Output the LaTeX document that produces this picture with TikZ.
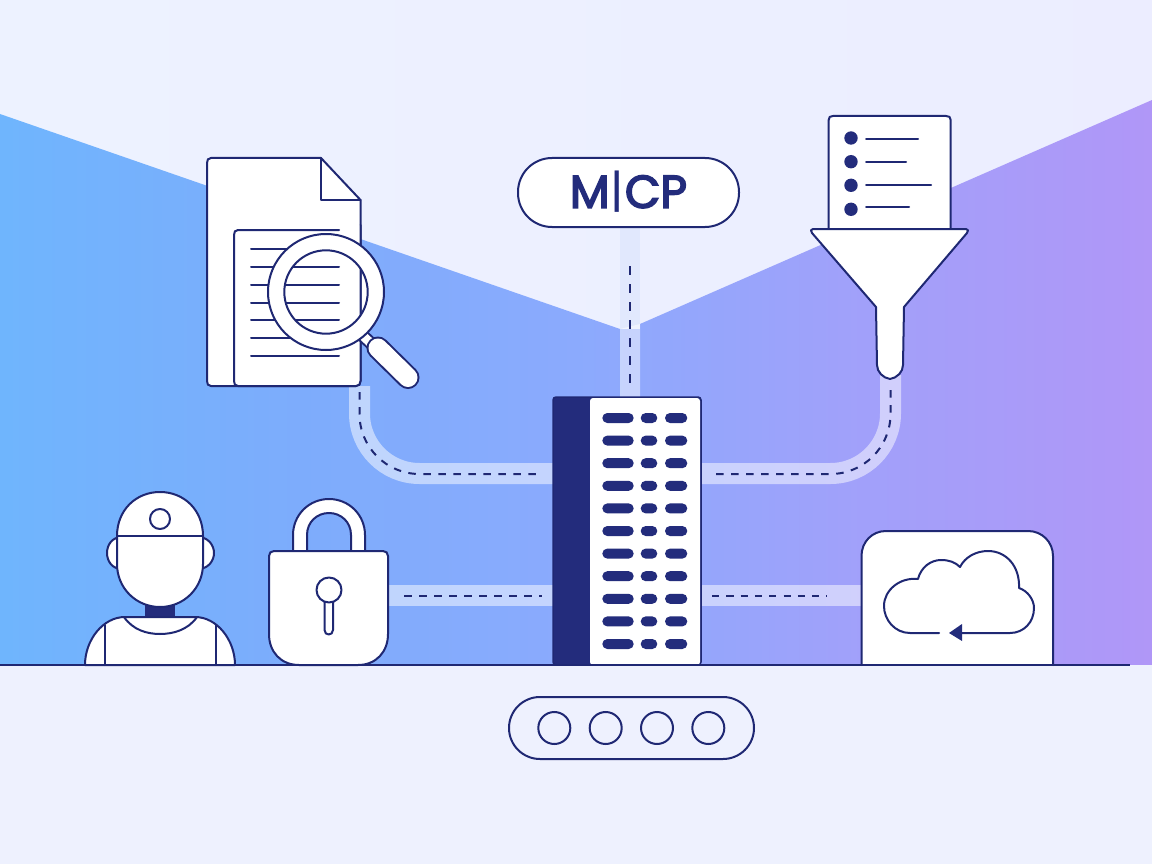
\documentclass[tikz,border=0pt]{standalone}
\usepackage{fontspec}
\newfontfamily\mcpfont[FakeBold=3.5]{Poppins}
\newfontfamily\mcpbar{Poppins}
\definecolor{navy}{HTML}{1F2873}
\definecolor{navyfill}{HTML}{232C7C}
\definecolor{floorc}{HTML}{EEF1FE}
\definecolor{bandup}{HTML}{E1E8FD}
\pgfdeclarehorizontalshading{wallshade}{100bp}{
  rgb(0bp)=(0.435,0.71,0.992);
  rgb(25bp)=(0.435,0.71,0.992);
  rgb(38bp)=(0.49,0.675,0.988);
  rgb(50bp)=(0.545,0.667,0.992);
  rgb(62bp)=(0.63,0.63,0.98);
  rgb(75bp)=(0.69,0.59,0.97);
  rgb(100bp)=(0.69,0.59,0.97)}
\pgfdeclarehorizontalshading{skyshade}{100bp}{
  rgb(0bp)=(0.93,0.95,1);
  rgb(25bp)=(0.93,0.95,1);
  rgb(75bp)=(0.925,0.93,1);
  rgb(100bp)=(0.925,0.93,1)}
\tikzset{
  ink/.style={draw=navy,line width=2pt,line join=round,line cap=round},
  paper/.style={ink,fill=white},
  band/.style={line width=21pt,white,opacity=.5,line cap=butt},
  dashline/.style={draw=navy,line width=2pt,dash pattern=on 7.5pt off 7.5pt},
  textline/.style={draw=navy,line width=2pt,line cap=round},
  srvpill/.style={fill=navyfill,rounded corners=5pt}
}
\begin{document}
\begin{tikzpicture}[x=1pt,y=-1pt]
\useasboundingbox (0,0) rectangle (1152,864);
% backgrounds
\shade[shading=skyshade] (0,0) rectangle (1152,665);
\shade[shading=wallshade] (0,114) -- (620,329) -- (640,324) -- (1152,100) -- (1152,665) -- (0,665) -- cycle;
\fill[floorc] (0,665) rectangle (1152,864);
% ports
\coordinate (docport) at (359.5,386);
\coordinate (srvl) at (553,473.5);
\coordinate (fnlport) at (890.5,375);
\coordinate (srvr) at (701,473.5);
\coordinate (lockport) at (388,595.5);
\coordinate (srvll) at (553,595.5);
\coordinate (cloudport) at (861,595.5);
\coordinate (srvlr) at (701,595.5);
% bands
\fill[bandup] (620,227) rectangle (640,329);
\fill[white,opacity=.5] (620,329) -- (640,324) -- (640,397) -- (620,397) -- cycle;
\draw[band,rounded corners=60pt] (docport) |- (srvl);
\draw[band,rounded corners=60pt] (fnlport) |- (srvr);
\draw[band] (lockport) -- (srvll);
\draw[band] (cloudport) -- (srvlr);
% dashes
\coordinate (d1a) at (630,266); \coordinate (d1b) at (630,387);
\draw[draw=navy,line width=2pt,dash pattern=on 9pt off 9pt] (d1a) -- (d1b);
\coordinate (d2a) at (359.5,392); \coordinate (d2b) at (543,474);
\draw[dashline,rounded corners=60pt] (d2a) |- (d2b);
\coordinate (d3a) at (890.5,390); \coordinate (d3b) at (709,474);
\draw[dashline,rounded corners=60pt] (d3a) |- (d3b);
\coordinate (d4a) at (404,596); \coordinate (d4b) at (542,596);
\draw[dashline] (d4a) -- (d4b);
\coordinate (d5a) at (712,596); \coordinate (d5b) at (827,596);
\draw[draw=navy,line width=2pt,dash pattern=on 7.2pt off 7.1pt] (d5a) -- (d5b);
% MCP pill
\node[paper,rounded corners=34pt,minimum width=221pt,minimum height=69pt,inner sep=0pt] (mcp) at (628.5,192.5) {};
\node[inner sep=0pt,text=navyfill,font=\fontsize{46}{46}\selectfont] (mcplabel) at (628.5,192) {{\mcpfont M}\kern1pt{\mcpbar|}\kern1pt{\mcpfont CP}};
% document
\fill[white] (326,292) circle[radius=58];
\draw[paper] (211,158) -- (321,158) -- (360.5,200) -- (360.5,381) .. controls (360.5,384) and (359,386) .. (356,386) -- (211,386) .. controls (208,386) and (207,384) .. (207,381) -- (207,163) .. controls (207,160) and (208,158) .. (211,158) -- cycle;
\draw[ink] (321,158) -- (321,200) -- (360.5,200);
\draw[paper] (339,230) -- (238,230) .. controls (235,230) and (234,232) .. (234,235) -- (234,381) .. controls (234,384) and (235,386) .. (238,386) -- (356,386) .. controls (359,386) and (360.5,384) .. (360.5,381) -- (360.5,225);
\foreach \yy in {249,267,285,303,320,338,356}{
  \draw[textline] (251,\yy) -- (339,\yy);
}
% magnifier
\coordinate (neck0) at (361,334); \coordinate (neck1) at (378,350);
\draw[navy,line width=13pt,line cap=butt] (neck0) -- (neck1);
\draw[white,line width=9pt,line cap=butt] (neck0) -- (neck1);
\coordinate (hand0) at (378,348); \coordinate (hand1) at (408,377.5);
\draw[navy,line width=23pt,line cap=round] (hand0) -- (hand1);
\draw[white,line width=19pt,line cap=round] (hand0) -- (hand1);
\fill[white,even odd rule] (326,292) circle[radius=58] (326,292) circle[radius=41.7];
\draw[ink] (326,292) circle[radius=58];
\draw[ink] (326,292) circle[radius=41.7];
% funnel + list
\draw[paper] (828.7,229) -- (828.7,120) .. controls (828.7,117) and (830,116) .. (833,116) -- (946,116) .. controls (949,116) and (950.7,117) .. (950.7,120) -- (950.7,229);
\foreach \yy/\xe/\yl in {138/918/139,161.7/906/162,185.3/931/184.7,209.3/909/207}{
  \fill[navyfill] (851,\yy) circle[radius=6.7];
  \draw[textline] (866,\yl) -- (\xe,\yl);
}
\draw[paper] (813,229) -- (966,229) .. controls (968,229) and (969,231) .. (967,233) -- (904,307) -- (903,365) .. controls (903,372) and (897,378) .. (890,379) .. controls (883,378) and (877,372) .. (877,365) -- (876,307) -- (812,233) .. controls (810,231) and (811,229) .. (813,229) -- cycle;
% server
\node[fill=navyfill,draw=navy,line width=1.5pt,rounded corners=3pt,minimum width=148pt,minimum height=268pt,inner sep=0pt] (server) at (627,531) {};
\node[fill=white,rounded corners=3pt,minimum width=110pt,minimum height=267pt,inner sep=0pt] (panel) at (645,531.5) {};
\foreach \yy in {418,440.6,463.2,485.8,508.4,531,553.6,576.2,598.8,621.4,644}{
  \fill[srvpill] (602.3,\yy-5) rectangle (633.7,\yy+5);
  \fill[srvpill] (640.7,\yy-5) rectangle (657.3,\yy+5);
  \fill[srvpill] (665,\yy-5) rectangle (687.3,\yy+5);
}
% person
\draw[paper] (122,537) .. controls (112,537) and (107,545) .. (107,553) .. controls (107,561) and (112,569) .. (122,569) -- cycle;
\draw[paper] (198,537) .. controls (208,537) and (214,545) .. (214,553) .. controls (214,561) and (208,569) .. (198,569) -- cycle;
\fill[navyfill] (145,600) rectangle (175,620);
\draw[paper] (117,536) .. controls (117,510) and (136,492) .. (160,492) .. controls (184,492) and (203,510) .. (203,536) -- (203,564) .. controls (203,588) and (184,607) .. (160,607) .. controls (136,607) and (117,588) .. (117,564) -- cycle;
\draw[ink] (117,536) -- (203,536);
\draw[ink] (160,519) circle[radius=10];
\draw[paper] (85,665) .. controls (85,640) and (103,617) .. (125,617) -- (195,617) .. controls (217,617) and (235,640) .. (235,665) -- cycle;
\draw[ink] (105,625) -- (105,665);
\draw[ink] (215.7,625) -- (215.7,665);
\draw[ink] (124,617) .. controls (133,630) and (147,634) .. (160,634) .. controls (173,634) and (188,630) .. (197,617);
% lock
\draw[paper,even odd rule] (293,552) -- (293,535) .. controls (293,515) and (309,499) .. (329,499) .. controls (349,499) and (365,515) .. (365,535) -- (365,552) -- (351,552) -- (351,535) .. controls (351,522) and (341,513) .. (329,513) .. controls (317,513) and (307,522) .. (307,535) -- (307,552) -- cycle;
\draw[paper] (299,665) .. controls (281,665) and (269,652) .. (269,634) -- (269,556) .. controls (269,553) and (271,551) .. (274,551) -- (383,551) .. controls (386,551) and (388,553) .. (388,556) -- (388,634) .. controls (388,652) and (376,665) .. (358,665) -- cycle;
\draw[paper] (324.5,600) -- (324.5,630) .. controls (324.5,636) and (333,636) .. (333,630) -- (333,600) -- cycle;
\draw[paper] (329,590) circle[radius=12.5];
% cloud box
\draw[paper] (861.5,665) -- (861.5,556) .. controls (861.5,542) and (872,531) .. (886,531) -- (1028,531) .. controls (1042,531) and (1053,542) .. (1053,556) -- (1053,665);
\draw[ink] (939,633) -- (910,633) .. controls (895,633) and (884,620) .. (884,606) .. controls (884,590) and (900,577) .. (918,579) .. controls (921,567) and (931,560) .. (941,560) .. controls (949,560) and (955,562) .. (960,567) .. controls (965,557) and (976,551) .. (988,551) .. controls (1006,551) and (1020,566) .. (1019,588) .. controls (1028,591) and (1034,600) .. (1034,608) .. controls (1034,622) and (1024,633) .. (1010,633) -- (962,633);
\fill[navyfill] (949,633) -- (962,624) -- (962,641) -- cycle;
% baseline
\coordinate (base0) at (0,665); \coordinate (base1) at (1130,665);
\draw[draw=navy,line width=2pt] (base0) -- (base1);
% bottom pill
\node[draw=navy,line width=2pt,rounded corners=31pt,minimum width=245pt,minimum height=62pt,inner sep=0pt] (tray) at (631.5,728) {};
\foreach \xx [count=\i] in {554.3,605.7,657,708.3}{
  \node[draw=navy,line width=2pt,circle,minimum size=32pt,inner sep=0pt] (slot\i) at (\xx,728) {};
}
\end{tikzpicture}
\end{document}
